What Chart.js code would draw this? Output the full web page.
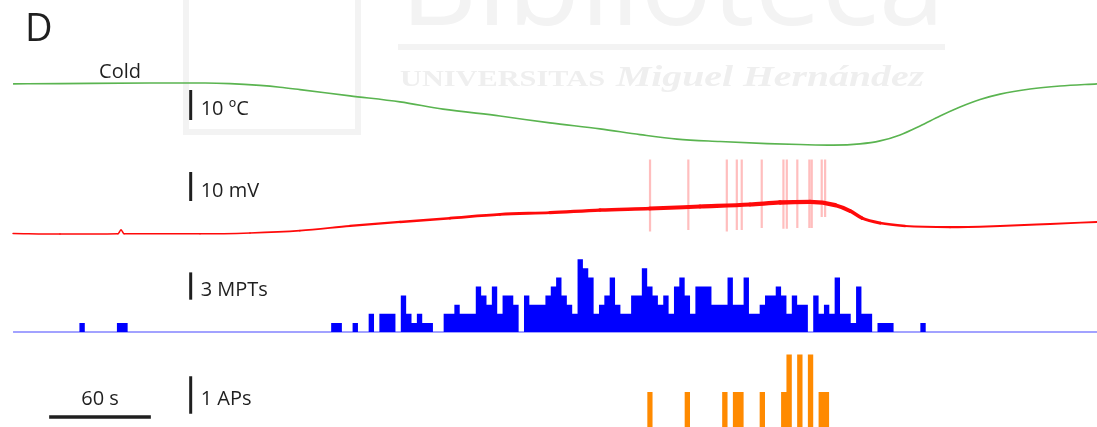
<!DOCTYPE html>
<html>
<head>
<meta charset="utf-8">
<script src="https://cdn.jsdelivr.net/npm/chart.js@4/dist/chart.umd.min.js"></script>
<style>
  html, body { margin: 0; padding: 0; background: #ffffff; }
  #wrap { position: relative; width: 1097px; height: 427px; }
</style>
</head>
<body>
<div id="wrap"><canvas id="trace"></canvas></div>
<script>
// ---- Recording (time in seconds from the start of the trace) ----

// Skin temperature (ºC)
const tempTimes  = [0, 27.7, 80.8, 113.3, 128.0, 145.7, 157.5, 169.3, 198.8, 228.3, 253.7, 287.3, 316.8, 346.3, 369.9, 391.7, 417.1, 444.8, 464.3, 483.8, 499.7, 511.5, 523.3, 535.1, 546.9, 558.7, 570.5, 582.3, 600.0, 617.7, 639.5];
const tempValues = [32.7, 32.8, 33.0, 33.0, 32.8, 32.2, 31.6, 30.8, 28.7, 26.7, 24.3, 22.0, 19.7, 17.7, 15.8, 14.3, 13.5, 12.8, 12.5, 12.3, 12.7, 13.7, 15.7, 18.7, 22.0, 25.0, 27.5, 29.3, 31.0, 32.0, 32.7];

// Membrane potential (mV)
const vmTimes  = [0, 27.7, 61.9, 63.7, 65.5, 110.3, 139.8, 169.3, 198.8, 228.3, 257.8, 287.3, 316.8, 346.3, 375.8, 405.3, 434.8, 452.5, 470.2, 485.0, 493.8, 500.9, 511.5, 526.3, 552.8, 582.3, 611.8, 639.5];
const vmValues = [-60.0, -60.2, -60.1, -58.8, -60.1, -60.1, -59.8, -59.0, -57.4, -56.0, -54.7, -53.4, -52.8, -51.9, -51.4, -50.7, -50.0, -49.3, -49.1, -50.2, -52.2, -54.7, -56.4, -57.4, -57.8, -57.4, -56.7, -56.0];

// Action potentials riding on the membrane trace
const spikeTimes   = [375.8, 398.4, 421.1, 427.0, 429.9, 441.7, 454.5, 456.5, 462.7, 469.8, 471.2, 477.1, 479.1];
const spikePeaks   = [-34.5, -34.5, -34.5, -34.5, -34.5, -34.5, -34.5, -34.5, -34.5, -34.5, -34.5, -34.5, -34.5];
const spikeTroughs = [-59.3, -58.8, -59.3, -58.8, -58.8, -58.1, -58.4, -58.4, -58.1, -58.1, -58.1, -54.3, -54.3];

// Counts per bin
const BIN_SECONDS = 3.16;
const MPT_FIRST_BIN = 36.0;   // start time of the first MPT bin
const mptCounts = [
  0, 1, 0, 0, 0, 0, 0, 0, 1, 1,
  0, 0, 0, 0, 0, 0, 0, 0, 0, 0,
  0, 0, 0, 0, 0, 0, 0, 0, 0, 0,
  0, 0, 0, 0, 0, 0, 0, 0, 0, 0,
  0, 0, 0, 0, 0, 0, 0, 0,
  1, 1, 0, 0, 1, 0, 0, 2, 0, 2,
  2, 2, 0, 4, 2, 1, 2, 1, 1, 0,
  0, 2, 2, 3, 2, 2, 2, 5, 4, 3,
  5, 2, 4, 4, 3, 0, 4, 3, 3, 3,
  4, 5, 6, 4, 3, 2, 8, 7, 6, 2,
  3, 4, 6, 3, 2, 2, 4, 4, 7, 5,
  4, 3, 4, 2, 5, 6, 4, 2, 5, 5,
  5, 3, 3, 3, 6, 3, 3, 6, 2, 2,
  3, 4, 4, 5, 4, 2, 4, 3, 3, 0,
  4, 2, 3, 2, 6, 2, 2, 1, 5, 2,
  2, 0, 1, 1, 1, 0, 0, 0, 0, 0,
  1, 0
];
const AP_FIRST_BIN = 374.12;  // start time of the first AP bin
const apCounts = [1, 0, 0, 0, 0, 0, 0, 1, 0, 0, 0, 0, 0, 0, 1, 0, 1, 1, 0, 0, 0, 1, 0, 0, 0, 1, 2, 0, 2, 0, 2, 0, 1, 1];

// Calibration bars
const barLabels = ['10 ºC', '10 mV', '3 MPTs', '1 APs'];
const barSizes  = [10, 10, 3, 1];
const timeBarSeconds = 60;
const timeBarLabel = '60 s';

// ---- Layout of the stacked traces ----
const T_START = -7.7, T_END = 639.5;
const BAR_TIME = 104.8;                        // x of the vertical calibration bars
const barAxes  = ['temp', 'volt', 'mpt', 'ap'];
const barFrom  = [20.67, -48.8, 3.55, 0.42];   // lower end of each calibration bar
const TIME_BAR_FROM = 21.3, TIME_BAR_LEVEL = 0.333;

const BLUE = '#0000ff';
const ORANGE = '#ff8a00';
const INK = '#1f1f1f';

const pts = (xs, ys) => xs.map((x, i) => ({ x, y: ys[i] }));
// histogram outline: one point at the left edge of every bin, closed at the last right edge
const binSteps = (start, counts) =>
  counts.map((c, i) => ({ x: start + i * BIN_SECONDS, y: c }))
        .concat([{ x: start + counts.length * BIN_SECONDS, y: 0 }]);

const spikeData = [];
spikeTimes.forEach((t, i) => {
  spikeData.push({ x: t, y: spikeTroughs[i] }, { x: t, y: spikePeaks[i] }, { x: t, y: null });
});

const calibrationSets = barAxes.map((axis, i) => ({
  yAxisID: axis, order: 0,
  data: [{ x: BAR_TIME, y: barFrom[i] }, { x: BAR_TIME, y: barFrom[i] + barSizes[i] }],
  borderColor: INK, borderWidth: 3, borderCapStyle: 'butt', pointRadius: 0
}));

// the membrane trace gets noisier while the cell depolarises
function vmWidth(t) {
  const knots = [[0, 1.5], [160, 1.6], [230, 2.4], [330, 3.2], [400, 4.0], [480, 4.4], [500, 3.4], [530, 2.1], [640, 1.9]];
  for (let i = 1; i < knots.length; i++) {
    if (t <= knots[i][0]) {
      const [t0, w0] = knots[i - 1], [t1, w1] = knots[i];
      return w0 + (w1 - w0) * (t - t0) / (t1 - t0);
    }
  }
  return 1.9;
}

const backdrop = {
  id: 'backdrop',
  beforeDraw(chart) {
    const c = chart.ctx;
    c.save();
    c.fillStyle = '#ffffff';
    c.fillRect(0, 0, chart.width, chart.height);
    // library stamp
    c.strokeStyle = '#f3f3f3';
    c.lineWidth = 6;
    c.strokeRect(186, -10, 172, 142);
    c.fillStyle = '#f3f3f3';
    const fit = (txt, x, y, w, font) => {
      c.font = font;
      const m = c.measureText(txt).width;
      c.save(); c.translate(x, y); c.scale(w / m, 1); c.fillText(txt, 0, 0); c.restore();
    };
    c.textBaseline = 'alphabetic';
    fit('Biblioteca', 400, 25, 545, '118px "Open Sans"');
    c.fillRect(398, 44, 547, 6);
    c.fillStyle = '#efefef';
    fit('UNIVERSITAS', 400, 86, 205, 'bold 24px "Liberation Serif"');
    fit('Miguel Hernández', 616, 86, 308, 'italic bold 30px "Liberation Serif"');
    c.restore();
  }
};

const annotations = {
  id: 'annotations',
  afterDatasetsDraw(chart) {
    const c = chart.ctx, sx = chart.scales.x;
    c.save();
    c.fillStyle = INK;
    c.textBaseline = 'alphabetic';
    c.textAlign = 'left';
    c.font = '38px "Open Sans"';
    c.fillText('D', 25, 41);
    c.font = '20px "Open Sans"';
    // stimulus label above the temperature trace
    const x0 = sx.getPixelForValue(0);
    c.fillText('Cold', x0 + 86, chart.scales.temp.getPixelForValue(tempValues[0]) - 6);
    // calibration labels
    const bx = sx.getPixelForValue(BAR_TIME);
    barAxes.forEach((axis, i) => {
      const s = chart.scales[axis];
      const mid = (s.getPixelForValue(barFrom[i]) + s.getPixelForValue(barFrom[i] + barSizes[i])) / 2;
      c.fillText(barLabels[i], bx + 10, mid + 10);
    });
    c.textAlign = 'center';
    const tx = (sx.getPixelForValue(TIME_BAR_FROM) + sx.getPixelForValue(TIME_BAR_FROM + timeBarSeconds)) / 2;
    const ty = chart.scales.ap.getPixelForValue(TIME_BAR_LEVEL);
    c.fillText(timeBarLabel, tx, ty - 12);
    c.restore();
  }
};

new Chart(document.getElementById('trace'), {
  type: 'line',
  data: {
    datasets: [
      {
        yAxisID: 'temp', order: 3,
        data: pts(tempTimes, tempValues),
        borderColor: 'rgb(90,180,80)', borderWidth: 1.6,
        cubicInterpolationMode: 'monotone', pointRadius: 0
      },
      {
        yAxisID: 'volt', order: 3,
        data: spikeData,
        borderColor: 'rgba(255,40,40,0.3)', borderWidth: 2.2, borderCapStyle: 'butt',
        spanGaps: false, pointRadius: 0
      },
      {
        yAxisID: 'volt', order: 2,
        data: pts(vmTimes, vmValues),
        borderColor: 'rgb(255,10,10)', borderWidth: 1.6, borderCapStyle: 'round', borderJoinStyle: 'round',
        cubicInterpolationMode: 'monotone', pointRadius: 0,
        segment: { borderWidth: ctx => vmWidth((ctx.p0.parsed.x + ctx.p1.parsed.x) / 2) }
      },
      {
        yAxisID: 'mpt', order: 4,
        data: [{ x: 0, y: 0 }, { x: T_END, y: 0 }],
        borderColor: 'rgba(90,90,255,0.75)', borderWidth: 1.6, pointRadius: 0
      },
      {
        yAxisID: 'mpt', order: 1,
        data: binSteps(MPT_FIRST_BIN, mptCounts),
        stepped: 'before', pointRadius: 0,
        borderColor: 'rgba(0,0,0,0)', borderWidth: 1,
        fill: { value: 0 }, backgroundColor: BLUE
      },
      {
        yAxisID: 'ap', order: 1,
        data: binSteps(AP_FIRST_BIN, apCounts),
        stepped: 'before', pointRadius: 0,
        borderColor: 'rgba(0,0,0,0)', borderWidth: 1,
        fill: { value: 0 }, backgroundColor: ORANGE
      },
      ...calibrationSets,
      {
        yAxisID: 'ap', order: 0,
        data: [{ x: TIME_BAR_FROM, y: TIME_BAR_LEVEL }, { x: TIME_BAR_FROM + timeBarSeconds, y: TIME_BAR_LEVEL }],
        borderColor: INK, borderWidth: 3.5, borderCapStyle: 'butt', pointRadius: 0
      }
    ]
  },
  options: {
    responsive: true,
    maintainAspectRatio: false,
    animation: false,
    devicePixelRatio: 1,
    layout: { padding: 0 },
    plugins: { legend: { display: false }, tooltip: { enabled: false }, title: { display: false } },
    scales: {
      x:    { type: 'linear', min: T_START, max: T_END, display: false, offset: false },
      temp: { type: 'linear', min: -81.67, max: 60.67, display: false },
      volt: { type: 'linear', min: -126.7, max: 20.5, display: false },
      mpt:  { type: 'linear', min: -10.44, max: 36.48, display: false },
      ap:   { type: 'linear', min: 0.0667, max: 11.453, display: false }
    }
  },
  plugins: [backdrop, annotations]
});
</script>
</body>
</html>
